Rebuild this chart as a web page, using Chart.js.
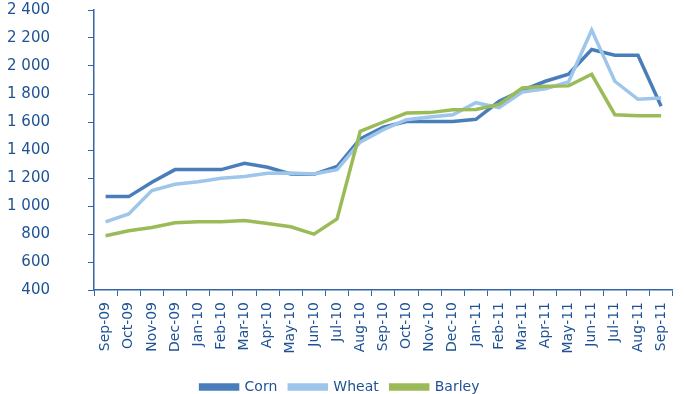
<!DOCTYPE html>
<html>
<head>
<meta charset="utf-8">
<script src="https://cdn.jsdelivr.net/npm/chart.js@4"></script>
<style>
  html, body { margin: 0; padding: 0; background: #fff; }
  #wrap { width: 684px; height: 394px; position: relative; }
</style>
</head>
<body>
<div id="wrap"><canvas id="grainChart"></canvas></div>
<script>
// Months on the x axis
const months = ['Sep-09', 'Oct-09', 'Nov-09', 'Dec-09', 'Jan-10', 'Feb-10', 'Mar-10', 'Apr-10', 'May-10',
    'Jun-10', 'Jul-10', 'Aug-10', 'Sep-10', 'Oct-10', 'Nov-10', 'Dec-10', 'Jan-11', 'Feb-11', 'Mar-11',
    'Apr-11', 'May-11', 'Jun-11', 'Jul-11', 'Aug-11', 'Sep-11'];

// Values
const corn = [1067, 1067, 1169, 1260, 1260, 1260, 1305, 1277, 1229, 1226, 1282, 1480, 1563, 1604, 1604,
    1604, 1619, 1748, 1826, 1891, 1941, 2118, 2077, 2077, 1712];
const wheat = [887, 943, 1110, 1155, 1174, 1198, 1210, 1234, 1236, 1229, 1260, 1456, 1545, 1616, 1635,
    1652, 1738, 1702, 1814, 1838, 1886, 2257, 1891, 1762, 1771];
const barley = [787, 823, 847, 880, 887, 887, 897, 875, 852, 799, 907, 1533, 1600, 1664, 1667,
    1688, 1690, 1726, 1843, 1855, 1858, 1941, 1652, 1645, 1645];

const yTicks = [400, 600, 800, 1000, 1200, 1400, 1600, 1800, 2000, 2200, 2400];

const textColor = '#1f5294';
const axisColor = '#3465a4';

document.addEventListener('DOMContentLoaded', () => {
    const ctx = document.getElementById('grainChart').getContext('2d');

    const lineStyle = {
        borderWidth: 3.5,
        pointRadius: 0,
        pointHoverRadius: 0,
        tension: 0,
        fill: false
    };

    new Chart(ctx, {
        type: 'line',
        data: {
            labels: months,
            datasets: [
                { label: 'Corn', data: corn, borderColor: '#4a7ebb', backgroundColor: '#4a7ebb', order: 2, ...lineStyle },
                { label: 'Wheat', data: wheat, borderColor: '#9dc6ea', backgroundColor: '#9dc6ea', order: 1, ...lineStyle },
                { label: 'Barley', data: barley, borderColor: '#9bbb59', backgroundColor: '#9bbb59', order: 0, ...lineStyle }
            ]
        },
        options: {
            responsive: true,
            maintainAspectRatio: false,
            animation: false,
            layout: { padding: { left: 0, right: 4, top: 10, bottom: -10 } },
            scales: {
                y: {
                    min: 400,
                    max: 2400,
                    afterBuildTicks: (axis) => { axis.ticks = yTicks.map(v => ({ value: v })); },
                    afterFit: (axis) => {
                        axis.width = 94;
                        // the big label gap should not push the plot down
                        axis.paddingTop = 0;
                        axis.paddingBottom = 0;
                    },
                    ticks: {
                        color: textColor,
                        padding: 38,
                        font: { family: 'DejaVu Sans', size: 15 },
                        callback: (v) => String(v).replace(/\B(?=(\d{3})+(?!\d))/g, ' ')
                    },
                    grid: { drawOnChartArea: false, drawTicks: true, tickLength: 6, color: axisColor },
                    border: { color: axisColor, width: 1.5 }
                },
                x: {
                    offset: true,
                    afterFit: (axis) => { axis.height = 78; },
                    ticks: {
                        color: textColor,
                        minRotation: 90,
                        maxRotation: 90,
                        autoSkip: false,
                        padding: 6,
                        font: { family: 'DejaVu Sans', size: 14 }
                    },
                    grid: { drawOnChartArea: false, drawTicks: true, tickLength: 6, offset: true, color: axisColor },
                    border: { color: axisColor, width: 1.5 }
                }
            },
            plugins: {
                legend: {
                    position: 'bottom',
                    labels: {
                        boxWidth: 37,
                        boxHeight: 4,
                        padding: 12,
                        color: textColor,
                        font: { family: 'DejaVu Sans', size: 14 },
                        sort: (a, b) => a.datasetIndex - b.datasetIndex
                    }
                },
                tooltip: { enabled: false }
            }
        }
    });
});
</script>
</body>
</html>
